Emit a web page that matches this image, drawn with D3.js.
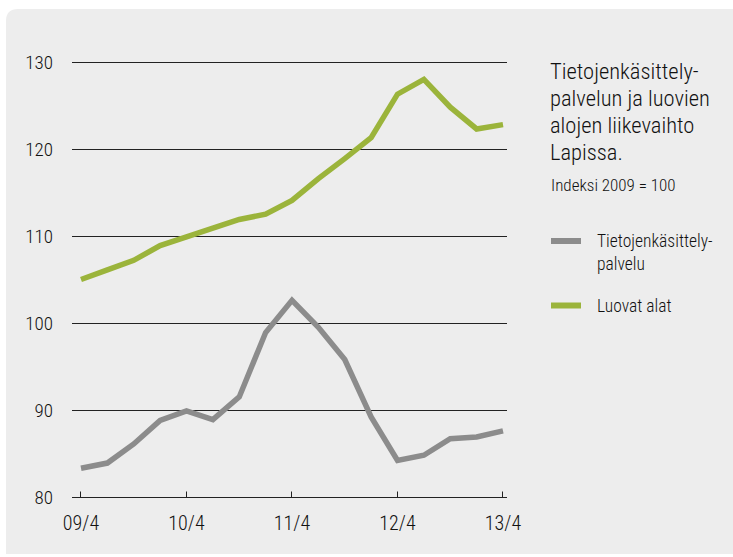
<!DOCTYPE html>
<html>
<head>
<meta charset="utf-8">
<script src="https://cdn.jsdelivr.net/npm/d3@7"></script>
<style>
  body { margin: 0; background: #fff; }
  svg { display: block; }
</style>
</head>
<body>
<div id="chart-container"></div>
<script>
const quarters = ['09/4', '10/1', '10/2', '10/3', '10/4', '11/1', '11/2', '11/3', '11/4',
  '12/1', '12/2', '12/3', '12/4', '13/1', '13/2', '13/3', '13/4']
const tickLabels = ['09/4', '10/4', '11/4', '12/4', '13/4']
const yTicks = [80, 90, 100, 110, 120, 130]

const tietoValues = [83.3, 83.9, 86.1, 88.8, 89.9, 88.9, 91.5, 98.9, 102.6,
  99.5, 95.8, 89.2, 84.2, 84.8, 86.7, 86.9, 87.6]
const luovatValues = [105.0, 106.1, 107.2, 108.9, 109.9, 110.9, 111.9, 112.5, 114.1,
  116.6, 118.9, 121.3, 126.3, 128.0, 124.8, 122.3, 122.8]

const seriesNames = ['Tietojenkäsittely-\npalvelu', 'Luovat alat']
const titleLines = ['Tietojenkäsittely-', 'palvelun ja luovien', 'alojen liikevaihto', 'Lapissa.']
const subtitle = 'Indeksi 2009 = 100'

const width = 733
const height = 557
const font = '"Liberation Sans Narrow", "Roboto Condensed", "DejaVu Sans Condensed", sans-serif'
const gray = '#8c8c8c'
const green = '#9bb43b'

const svg = d3.select('#chart-container')
  .append('svg')
  .attr('width', width)
  .attr('height', height)
  .attr('viewBox', `0 0 ${width} ${height}`)
  .attr('font-weight', 300)

// panel background, rounded top-left corner
svg.append('path')
  .attr('d', 'M6,554 L6,21 Q6,9 18,9 L740,9 L740,554 Z')
  .attr('fill', '#ededed')

const x = d3.scalePoint().domain(quarters).range([81, 503])
const y = d3.scaleLinear().domain([80, 130]).range([497, 62])

// grid lines
svg.append('g')
  .selectAll('line')
  .data(yTicks.slice(1))
  .join('line')
  .attr('x1', 72)
  .attr('x2', 507)
  .attr('y1', d => Math.round(y(d)) + 0.5)
  .attr('y2', d => Math.round(y(d)) + 0.5)
  .attr('stroke', '#222')
  .attr('stroke-width', 1)

// y labels
svg.append('g')
  .attr('font-family', font)
  .attr('font-size', 19)
  .attr('fill', '#111')
  .selectAll('text')
  .data(yTicks)
  .join('text')
  .attr('x', 53)
  .attr('y', d => y(d))
  .attr('dy', '0.36em')
  .attr('text-anchor', 'end')
  .text(d => d)

// x axis
const xAxis = svg.append('g')
  .attr('transform', `translate(0, ${Math.round(y(80)) + 0.5})`)
xAxis.append('line')
  .attr('x1', 72)
  .attr('x2', 507)
  .attr('stroke', '#222')
xAxis.selectAll('line.tick')
  .data(tickLabels)
  .join('line')
  .attr('class', 'tick')
  .attr('x1', d => Math.round(x(d)) - 0.5)
  .attr('x2', d => Math.round(x(d)) - 0.5)
  .attr('y1', 0)
  .attr('y2', -6)
  .attr('stroke', '#222')
xAxis.selectAll('text')
  .data(tickLabels)
  .join('text')
  .attr('x', d => x(d))
  .attr('y', 32)
  .attr('text-anchor', 'middle')
  .attr('font-family', font)
  .attr('font-size', 20)
  .attr('fill', '#111')
  .text(d => d)

// lines
const line = d3.line()
  .x((d, i) => x(quarters[i]))
  .y(d => y(d))

svg.append('path')
  .datum(luovatValues)
  .attr('d', line)
  .attr('fill', 'none')
  .attr('stroke', green)
  .attr('stroke-width', 5.5)

svg.append('path')
  .datum(tietoValues)
  .attr('d', line)
  .attr('fill', 'none')
  .attr('stroke', gray)
  .attr('stroke-width', 5.5)

// title
const legend = svg.append('g')
  .attr('font-family', font)
  .attr('fill', '#111')

legend.append('text')
  .attr('font-size', 22.5)
  .selectAll('tspan')
  .data(titleLines)
  .join('tspan')
  .attr('x', 550)
  .attr('y', (d, i) => 79 + i * 27)
  .text(d => d)

legend.append('text')
  .attr('x', 551)
  .attr('y', 191)
  .attr('font-size', 17)
  .text(subtitle)

// legend items
const items = [
  { name: seriesNames[0], color: gray, y: 241 },
  { name: seriesNames[1], color: green, y: 305.5 },
]
const item = legend.selectAll('g.item')
  .data(items)
  .join('g')
  .attr('class', 'item')
item.append('line')
  .attr('x1', 551)
  .attr('x2', 581)
  .attr('y1', d => d.y)
  .attr('y2', d => d.y)
  .attr('stroke', d => d.color)
  .attr('stroke-width', 6)
item.append('text')
  .attr('font-size', 17.5)
  .selectAll('tspan')
  .data(d => d.name.split('\n').map((t, i) => ({ t, i, y: d.y })))
  .join('tspan')
  .attr('x', 597)
  .attr('y', d => d.y + 6 + d.i * 23)
  .text(d => d.t)
</script>
</body>
</html>
